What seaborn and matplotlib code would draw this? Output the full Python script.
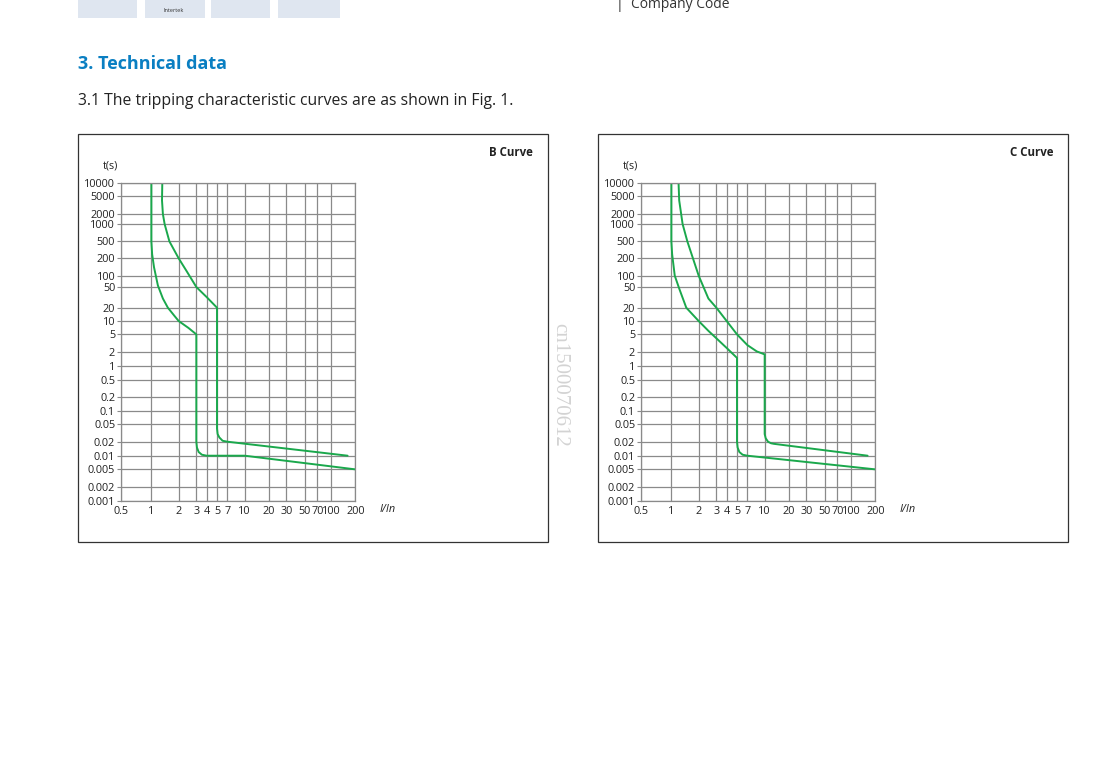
import numpy as np
import matplotlib
matplotlib.use("Agg")
import matplotlib.pyplot as plt
import seaborn as sns
from matplotlib.patches import Rectangle

sns.set_theme(style="white")
plt.rcParams['font.family'] = ['Open Sans', 'DejaVu Sans']

# ---- data ----
x_ticks = [0.5, 1, 2, 3, 4, 5, 7, 10, 20, 30, 50, 70, 100, 200]
x_tick_labels = ["0.5", "1", "2", "3", "4", "5", "7", "10", "20", "30", "50", "70", "100", "200"]
y_ticks = [10000, 5000, 2000, 1000, 500, 200, 100, 50, 20, 10, 5, 2, 1, 0.5, 0.2, 0.1,
           0.05, 0.02, 0.01, 0.005, 0.002, 0.001]
y_tick_labels = ["10000", "5000", "2000", "1000", "500", "200", "100", "50", "20", "10", "5",
                 "2", "1", "0.5", "0.2", "0.1", "0.05", "0.02", "0.01", "0.005", "0.002", "0.001"]

b_lower_x = [1, 1, 1.02, 1.07, 1.18, 1.34, 1.52, 1.8, 2, 2.5, 3, 3, 3.05, 3.2, 3.5, 4, 10, 200]
b_lower_y = [10000, 500, 250, 140, 55, 30, 20, 13, 10, 7, 5, 0.02, 0.015, 0.012, 0.0105, 0.01, 0.01, 0.005]
b_upper_x = [1.32, 1.31, 1.34, 1.4, 1.58, 2, 2.4, 3, 4, 5, 5, 5.1, 5.4, 6, 7, 160]
b_upper_y = [10000, 4000, 2000, 1000, 500, 200, 120, 50, 32, 20, 0.04, 0.03, 0.025, 0.021, 0.02, 0.01]
c_lower_x = [1, 1, 1.02, 1.09, 1.23, 1.46, 2, 2.5, 3, 4, 5, 5, 5.1, 5.4, 6, 7, 200]
c_lower_y = [10000, 500, 250, 100, 45, 20, 10, 6, 4.1, 2.5, 1.5, 0.02, 0.015, 0.012, 0.0105, 0.01, 0.005]
c_upper_x = [1.2, 1.22, 1.33, 1.5, 2, 2.5, 3, 4, 5, 7, 8.5, 10, 10, 10.3, 11, 12, 13, 160]
c_upper_y = [10000, 4000, 1000, 500, 100, 30, 20, 10, 5, 2.9, 2.1, 1.8, 0.03, 0.024, 0.02, 0.0185, 0.018, 0.01]

# ---- layout (irregular printed grid) ----
x_pos = np.array([0, 92, 174, 227, 258, 289, 320, 372, 445, 497, 552, 590, 632, 704], float)
y_pix = np.array([143, 183, 237, 267, 319, 370, 422, 456, 518, 558, 598, 652, 692, 734, 787,
                  828, 868, 920, 962, 1003, 1055, 1097], float)
y_pos = 1097 - y_pix

lx = np.log10(x_ticks)
ly = np.log10(y_ticks)[::-1]
yp = y_pos[::-1]

def fx(v):
    return np.interp(np.log10(np.clip(v, 1e-9, None)), lx, x_pos)
def ix(p):
    return 10 ** np.interp(p, x_pos, lx)
def fy(v):
    return np.interp(np.log10(np.clip(v, 1e-12, None)), ly, yp)
def iy(p):
    return 10 ** np.interp(p, yp, ly)

W, H = 1116, 776
fig = plt.figure(figsize=(W / 100, H / 100), dpi=100)
fig.patch.set_facecolor("white")

def px(x, y):
    return x / W, 1 - y / H

# header
for x0, x1 in [(78, 137), (145, 205), (211, 270), (278, 340)]:
    fig.patches.append(Rectangle(px(x0, 18), (x1 - x0) / W, 18 / H, transform=fig.transFigure,
                                 facecolor="#dfe6f0", edgecolor="none"))
fig.text(*px(163, 11), "Intertek", fontsize=4, color="#333333", ha="left", va="center")
fig.text(*px(616, 4), "|  Company Code", fontsize=10, color="#333333", ha="left", va="center")
fig.text(*px(78, 64), "3. Technical data", fontsize=13, fontweight="bold", color="#0a7fc2",
         ha="left", va="center")
fig.text(*px(78, 101), "3.1 The tripping characteristic curves are as shown in Fig. 1.",
         fontsize=11.3, color="#222222", ha="left", va="center")

green = "#1aa84c"

def panel(bx, title, curves):
    fig.patches.append(Rectangle(px(bx, 542), 470 / W, 408 / H, transform=fig.transFigure,
                                 facecolor="none", edgecolor="#333333", linewidth=0.9))
    l = (bx + 42.7) / W
    b = 1 - 500.7 / H
    ax = fig.add_axes([l, b, 234.6 / W, 318 / H])
    ax.set_xscale("function", functions=(fx, ix))
    ax.set_yscale("function", functions=(fy, iy))
    ax.set_xlim(0.5, 200)
    ax.set_ylim(0.001, 10000)
    for xs, ys in curves:
        sns.lineplot(x=xs, y=ys, ax=ax, color=green, linewidth=1.4, sort=False,
                     estimator=None)
    ax.set_xticks(x_ticks)
    ax.set_xticklabels(x_tick_labels)
    ax.set_yticks(y_ticks)
    ax.set_yticklabels(y_tick_labels)
    ax.minorticks_off()
    ax.grid(True, color="#8a8a8a", linewidth=0.9)
    ax.set_axisbelow(True)
    for s in ax.spines.values():
        s.set_color("#8a8a8a")
        s.set_linewidth(0.9)
    ax.tick_params(axis="y", left=True, length=3, width=0.8, color="#8a8a8a",
                   labelsize=7.8, pad=1, labelcolor="#222222")
    ax.tick_params(axis="x", bottom=False, length=0, labelsize=7.8, pad=4,
                   labelcolor="#222222")
    ax.set_xlabel("")
    ax.set_ylabel("")
    fig.text(*px(bx + 455, 153), title, fontsize=8.3, fontweight="bold", color="#222222",
             ha="right", va="center")
    fig.text(*px(bx + 33, 166), "t(s)", fontsize=7.8, color="#222222", ha="center", va="center")
    fig.text(*px(bx + 302, 509), "I/In", fontsize=7.8, color="#222222", ha="left", va="center",
             fontstyle="italic")
    return ax

panel(78, "B Curve", [(b_lower_x, b_lower_y), (b_upper_x, b_upper_y)])
panel(598, "C Curve", [(c_lower_x, c_lower_y), (c_upper_x, c_upper_y)])

fig.text(*px(560, 385), "cn1500070612", fontsize=15, color="#c8c8c8", rotation=-90,
         ha="center", va="center", family=["Liberation Serif", "DejaVu Serif"], alpha=0.8)

fig.savefig("out.png", dpi=100, facecolor="white")
